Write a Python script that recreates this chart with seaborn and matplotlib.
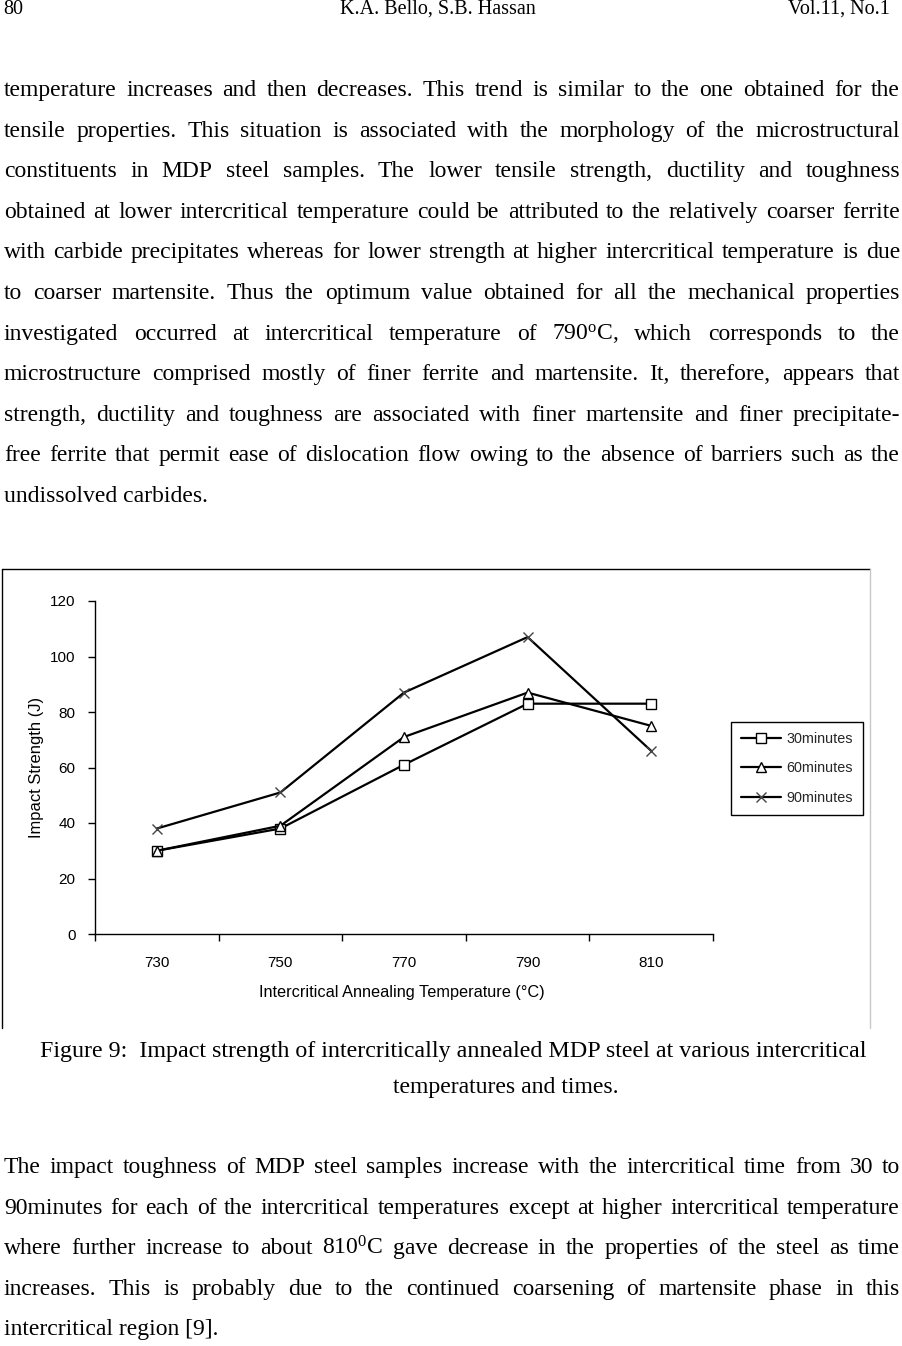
import numpy as np
import matplotlib
matplotlib.use('Agg')
import matplotlib.pyplot as plt
import seaborn as sns
from matplotlib.lines import Line2D

# ---------------- data ----------------
temperatures = ['730', '750', '770', '790', '810']
series_names = ['30minutes', '60minutes', '90minutes']
impact_30 = [30, 38, 61, 83, 83]
impact_60 = [30, 39, 71, 87, 75]
impact_90 = [38, 51, 87, 107, 66]
y_ticks = [0, 20, 40, 60, 80, 100, 120]
x_label = 'Intercritical Annealing Temperature (°C)'
y_label = 'Impact Strength (J)'

header_left = '80'
header_mid = 'K.A. Bello, S.B. Hassan'
header_right = 'Vol.11, No.1'

para1 = [
    'temperature increases and then decreases. This trend is similar to the one obtained for the',
    'tensile properties. This situation is associated with the morphology of the microstructural',
    'constituents in MDP steel samples. The lower tensile strength, ductility and toughness',
    'obtained at lower intercritical temperature could be attributed to the relatively coarser ferrite',
    'with carbide precipitates whereas for lower strength at higher intercritical temperature is due',
    'to coarser martensite. Thus the optimum value obtained for all the mechanical properties',
    'investigated occurred at intercritical temperature of 790$^{\\mathrm{o}}$C, which corresponds to the',
    'microstructure comprised mostly of finer ferrite and martensite. It, therefore, appears that',
    'strength, ductility and toughness are associated with finer martensite and finer precipitate-',
    'free ferrite that permit ease of dislocation flow owing to the absence of barriers such as the',
    'undissolved carbides.',
]
caption = [
    'Figure 9:  Impact strength of intercritically annealed MDP steel at various intercritical',
    'temperatures and times.',
]
para2 = [
    'The impact toughness of MDP steel samples increase with the intercritical time from 30 to',
    '90minutes for each of the intercritical temperatures except at higher intercritical temperature',
    'where further increase to about 810$^{\\mathrm{0}}$C gave decrease in the properties of the steel as time',
    'increases. This is probably due to the continued coarsening of martensite phase in this',
    'intercritical region [9].',
]

# ---------------- style ----------------
sns.set_style('white')
plt.rcParams['font.family'] = ['Liberation Sans', 'DejaVu Sans']
plt.rcParams['mathtext.fontset'] = 'custom'
plt.rcParams['mathtext.rm'] = 'Liberation Serif'
plt.rcParams['mathtext.it'] = 'Liberation Serif:italic'
plt.rcParams['mathtext.bf'] = 'Liberation Serif:bold'

W, H = 903, 1346
fig = plt.figure(figsize=(W / 100, H / 100), dpi=100)
fig.patch.set_facecolor('white')
renderer = fig.canvas.get_renderer()

SERIF = ['Liberation Serif', 'DejaVu Serif']
BODY = 17


def fx(px):
    return px / W


def fy(py):
    return 1 - py / H


def width_of(s, size):
    t = fig.text(0, 0, s, fontsize=size, family=SERIF)
    w = t.get_window_extent(renderer=renderer).width
    t.remove()
    return w


def put(s, x, baseline, size=BODY, ha='left'):
    fig.text(fx(x), fy(baseline), s, fontsize=size, family=SERIF,
             ha=ha, va='baseline', color='black')


def justify(line, baseline, left=4, right=900, size=BODY):
    words = line.split(' ')
    widths = [width_of(w, size) for w in words]
    gap = (right - left - sum(widths)) / (len(words) - 1)
    x = left
    for w, wd in zip(words, widths):
        put(w, x, baseline, size)
        x += wd + gap


# header
put(header_left, 3, 14, size=14.5)
put(header_mid, 340, 14, size=14.5)
put(header_right, 890, 14, size=14.5, ha='right')

# paragraph 1
LS = 40.6
b0 = 96
for i, line in enumerate(para1):
    if i < len(para1) - 1:
        justify(line, b0 + i * LS)
    else:
        put(line, 4, b0 + i * LS)

# caption
put(caption[0], 40, 1057, size=17.25)
put(caption[1], 393, 1093, size=17.1)

# paragraph 2
b1 = 1173
for i, line in enumerate(para2):
    if i < len(para2) - 1:
        justify(line, b1 + i * LS)
    else:
        put(line, 4, b1 + i * LS)

# chart frame
fig.add_artist(Line2D([fx(2), fx(870)], [fy(569), fy(569)], color='black', lw=1))
fig.add_artist(Line2D([fx(2), fx(2)], [fy(569), fy(1028)], color='black', lw=1))
fig.add_artist(Line2D([fx(870), fx(870)], [fy(569), fy(1028)], color='#c8c8c8', lw=1))

# ---------------- chart ----------------
ax = fig.add_axes([95 / W, 1 - 934 / H, 618 / W, 333 / H])
ax.set_facecolor('white')
pos = np.arange(len(temperatures))

specs = [
    (series_names[0], impact_30, 's', 7, 'black'),
    (series_names[1], impact_60, '^', 7.5, 'black'),
    (series_names[2], impact_90, 'x', 7, '#444444'),
]
for name, vals, mk, ms, mec in specs:
    sns.lineplot(x=pos, y=vals, ax=ax, color='black', linewidth=1.6,
                 marker=mk, markersize=ms, markerfacecolor='white',
                 markeredgecolor=mec, markeredgewidth=1.0, errorbar=None,
                 label=name)

for ln, (name, vals, mk, ms, mec) in zip(ax.lines, specs):
    ln.set_markerfacecolor('white')
    ln.set_markeredgecolor(mec)
    ln.set_markeredgewidth(1.0)

ax.set_xlim(-0.5, len(temperatures) - 0.5)
ax.set_ylim(0, 120)
ax.set_yticks(y_ticks)
ax.set_yticklabels([str(v) for v in y_ticks])
ax.set_xticks(np.arange(-0.5, len(temperatures), 1.0))
ax.set_xticklabels([''] * (len(temperatures) + 1))
ax.set_xticks(pos, minor=True)
ax.set_xticklabels(temperatures, minor=True)

ax.tick_params(axis='y', which='major', direction='out', length=5, width=1,
               labelsize=11, pad=9, left=True, colors='black')
ax.tick_params(axis='x', which='major', direction='out', length=5, width=1,
               bottom=True, colors='black')
ax.tick_params(axis='x', which='minor', length=0, labelsize=11, pad=16,
               colors='black')

for side in ['top', 'right']:
    ax.spines[side].set_visible(False)
for side in ['left', 'bottom']:
    ax.spines[side].set_color('black')
    ax.spines[side].set_linewidth(1)

ax.set_xlabel(x_label, fontsize=11.7, color='black')
ax.set_ylabel(y_label, fontsize=11.9, color='black')
ax.xaxis.set_label_coords(0.497, -0.153)
ax.yaxis.set_label_coords(-0.083, 0.5)

handles, labels = ax.get_legend_handles_labels()
if ax.get_legend() is not None:
    ax.get_legend().remove()
leg = ax.legend(handles, labels, loc='upper left',
                bbox_to_anchor=(731 / W, 1 - 722 / H),
                bbox_transform=fig.transFigure, borderaxespad=0,
                fontsize=10.4, frameon=True, fancybox=False, shadow=False,
                framealpha=1, edgecolor='black', handlelength=2.75,
                handletextpad=0.4, labelspacing=1.08, borderpad=0.68)
leg.get_frame().set_linewidth(1)

fig.savefig('out.png', dpi=100, facecolor='white')
